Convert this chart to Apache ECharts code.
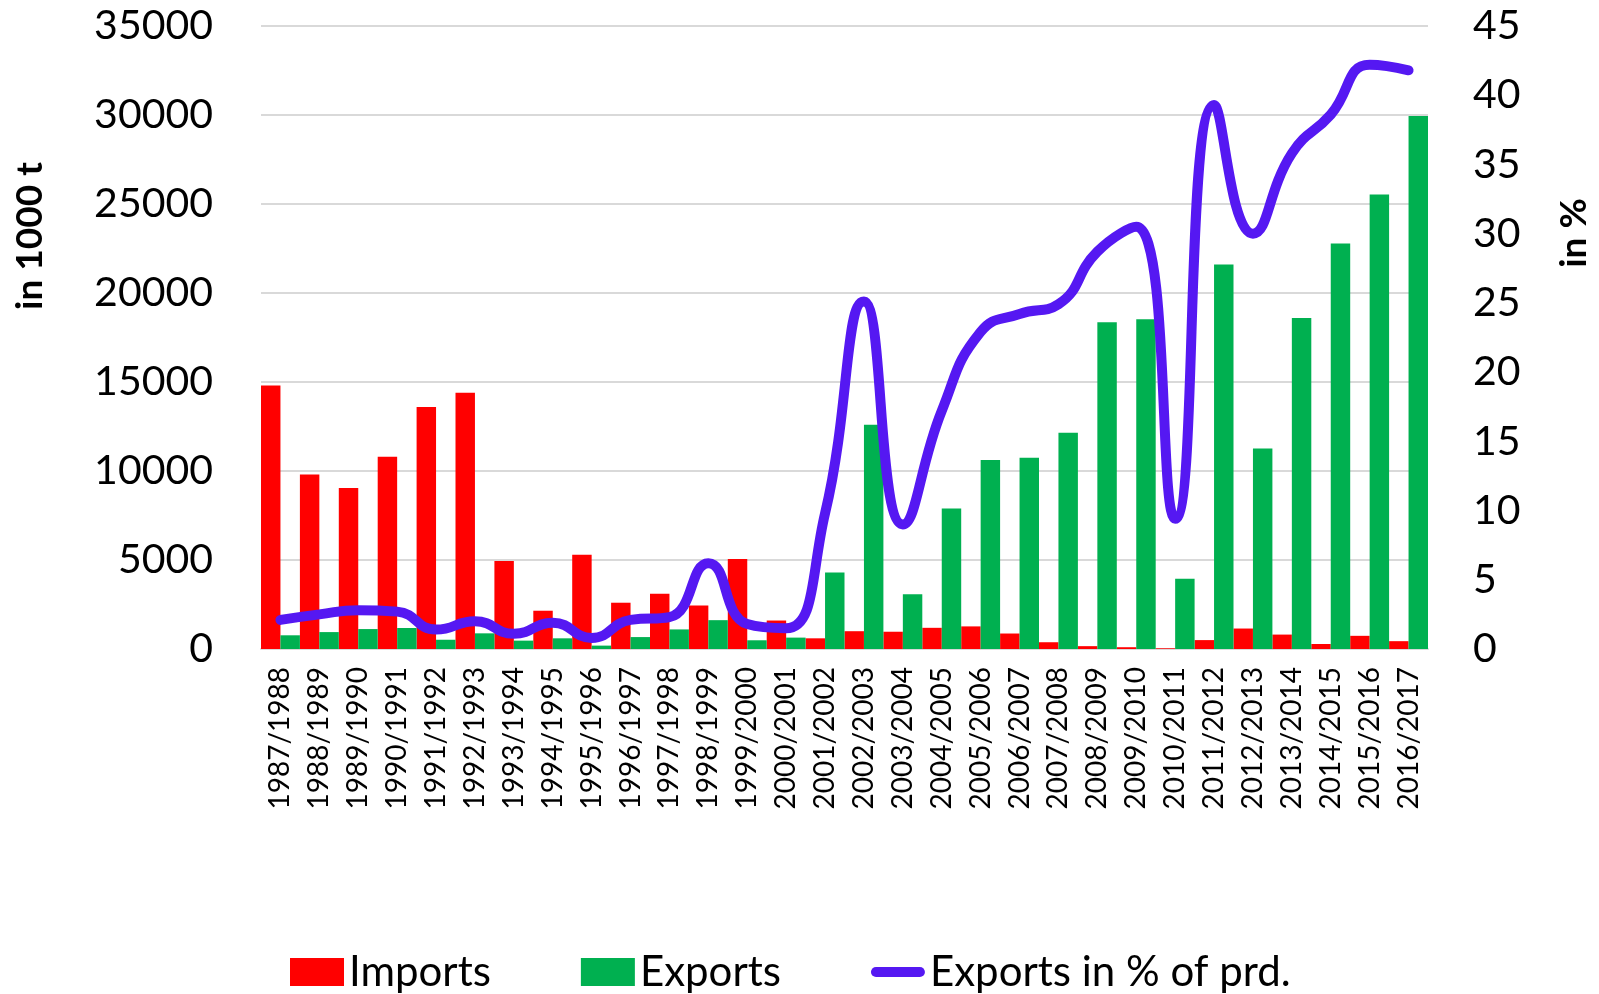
<!DOCTYPE html>
<html>
<head>
<meta charset="utf-8">
<script src="https://cdn.jsdelivr.net/npm/echarts@6/dist/echarts.min.js"></script>
<style>
  html, body { margin: 0; padding: 0; background: #fff; }
  #chart { width: 1599px; height: 994px; }
</style>
</head>
<body>
<div id="chart"></div>
<script>
// seasons on the category axis
const seasons = [
  '1987/1988', '1988/1989', '1989/1990', '1990/1991', '1991/1992', '1992/1993',
  '1993/1994', '1994/1995', '1995/1996', '1996/1997', '1997/1998', '1998/1999',
  '1999/2000', '2000/2001', '2001/2002', '2002/2003', '2003/2004', '2004/2005',
  '2005/2006', '2006/2007', '2007/2008', '2008/2009', '2009/2010', '2010/2011',
  '2011/2012', '2012/2013', '2013/2014', '2014/2015', '2015/2016', '2016/2017'
];

// in 1000 t
const imports = [
  14800, 9800, 9050, 10800, 13600, 14400, 4950, 2150, 5300, 2600,
  3100, 2450, 5050, 1600, 600, 1000, 970, 1190, 1270, 870,
  380, 160, 100, 40, 500, 1150, 810, 280, 740, 440
];
const exports = [
  770, 950, 1120, 1180, 520, 880, 470, 600, 190, 670,
  1100, 1620, 490, 640, 4300, 12600, 3080, 7900, 10620, 10750,
  12150, 18350, 18530, 3950, 21600, 11270, 18600, 22780, 25530, 29950
];
// exports in % of production
const exportShare = [
  2.1, 2.5, 2.8, 2.7, 1.4, 2.0, 1.1, 1.9, 0.8, 2.1,
  2.3, 6.2, 1.8, 1.5, 9.8, 25.1, 9.0, 17.2, 22.9, 24.2,
  24.9, 28.7, 30.5, 9.4, 39.3, 30.0, 35.8, 38.6, 42.2, 41.8
];

const leftTicks = { min: 0, max: 35000, interval: 5000 };
const rightTicks = { min: 0, max: 45, interval: 5 };

const FONT = 'Lato';
const LINE_COLOR = '#5518f2';
const chart = echarts.init(document.getElementById('chart'));

chart.setOption({
  backgroundColor: '#ffffff',
  animation: false,
  grid: { left: 261, right: 171, top: 26, bottom: 345, containLabel: false },
  legend: {
    left: 285,
    top: 946,
    itemWidth: 54,
    itemHeight: 28,
    itemGap: 90,
    textStyle: { fontFamily: FONT, fontSize: 42, color: '#000' },
    data: [
      { name: 'Imports', icon: 'rect' },
      { name: 'Exports', icon: 'rect' },
      {
        name: 'Exports in % of prd.',
        icon: 'path://M6,0 L58,0 A6,6 0 0 1 58,12 L6,12 A6,6 0 0 1 6,0 Z',
        itemStyle: { color: LINE_COLOR }
      }
    ]
  },
  xAxis: {
    type: 'category',
    data: seasons,
    axisLine: { lineStyle: { color: '#d9d9d9', width: 2 } },
    axisTick: { show: false },
    axisLabel: {
      rotate: 90,
      interval: 0,
      margin: 18,
      fontFamily: FONT,
      fontSize: 28,
      color: '#000'
    }
  },
  yAxis: [
    {
      type: 'value',
      min: leftTicks.min,
      max: leftTicks.max,
      interval: leftTicks.interval,
      axisLine: { show: false },
      axisTick: { show: false },
      splitLine: { lineStyle: { color: '#d9d9d9', width: 2 } },
      axisLabel: {
        margin: 48, fontFamily: FONT, fontSize: 41, color: '#000',
        formatter: v => String(v)
      }
    },
    {
      type: 'value',
      min: rightTicks.min,
      max: rightTicks.max,
      interval: rightTicks.interval,
      axisLine: { show: false },
      axisTick: { show: false },
      splitLine: { show: false },
      axisLabel: { margin: 45, fontFamily: FONT, fontSize: 41, color: '#000' }
    }
  ],
  graphic: [
    {
      type: 'text', x: 30, y: 236, rotation: Math.PI / 2,
      style: { text: 'in 1000 t', font: 'bold 37px Lato', fill: '#000', align: 'center', verticalAlign: 'middle' }
    },
    {
      type: 'text', x: 1574, y: 233, rotation: Math.PI / 2,
      style: { text: 'in %', font: 'bold 37px Lato', fill: '#000', align: 'center', verticalAlign: 'middle' }
    }
  ],
  series: [
    {
      name: 'Imports',
      type: 'bar',
      data: imports,
      barGap: '0%',
      barCategoryGap: '0%',
      itemStyle: { color: '#ff0000' }
    },
    {
      name: 'Exports',
      type: 'bar',
      data: exports,
      itemStyle: { color: '#00b050' }
    },
    {
      name: 'Exports in % of prd.',
      type: 'line',
      yAxisIndex: 1,
      data: exportShare,
      smooth: 0.5,
      symbol: 'none',
      lineStyle: { color: LINE_COLOR, width: 10, cap: 'round', join: 'round' },
      itemStyle: { color: LINE_COLOR }
    }
  ]
});
</script>
</body>
</html>
